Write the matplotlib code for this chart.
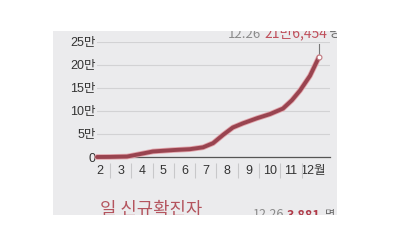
import matplotlib
matplotlib.use("Agg")
import matplotlib.pyplot as plt
import matplotlib.patheffects as pe
from matplotlib.patches import Rectangle

plt.rcParams['font.family'] = ['Noto Sans CJK KR', 'DejaVu Sans']

# cumulative count (unit: 만), x in month units (3.0 = start of March)
month_pos = [2.39, 3.0, 3.8, 4.03, 4.41, 5.02, 5.96, 6.76, 7.37, 7.84, 8.31,
             8.77, 9.24, 9.9, 10.51, 11.12, 11.54, 11.92, 12.39, 12.81]
cum_man = [0.0, 0.02, 0.1, 0.3, 0.64, 1.2, 1.5, 1.7, 2.1, 3.0, 4.8,
           6.4, 7.3, 8.4, 9.3, 10.5, 12.3, 14.4, 17.6, 21.65]

months = [2, 3, 4, 5, 6, 7, 8, 9, 10, 11, 12]
month_labels = ["2", "3", "4", "5", "6", "7", "8", "9", "10", "11", "12월"]
y_ticks = [0, 5, 10, 15, 20, 25]
y_labels = ["0", "5만", "10만", "15만", "20만", "25만"]

W, H = 400, 250
fig = plt.figure(figsize=(4, 2.5), dpi=100)
fig.patch.set_facecolor("white")

# gray panel (the crop of the original graphic)
px0, py0, px1, py1 = 53, 31, 337, 215
panel = Rectangle((px0 / W, 1 - py1 / H), (px1 - px0) / W, (py1 - py0) / H,
                  transform=fig.transFigure, facecolor="#ebebed", edgecolor="none", zorder=-1)
fig.patches.append(panel)

ax = fig.add_axes([97 / W, 1 - 157 / H, 233 / W, 115.3 / H])
ax.set_zorder(1)
ax.set_facecolor("none")
ax.set_xlim(2.39, 13.33)
ax.set_ylim(0, 25)

for s in ["top", "right", "left"]:
    ax.spines[s].set_visible(False)
ax.spines["bottom"].set_color("#555555")
ax.spines["bottom"].set_linewidth(0.9)

ax.set_yticks(y_ticks, y_labels)
ax.set_xticks([m + 0.5 for m in months], month_labels)
ax.tick_params(axis="y", length=0, pad=1, labelsize=9, labelcolor="#333333")
ax.tick_params(axis="x", length=0, pad=6, labelsize=9, labelcolor="#333333")
for t in ax.get_xticklabels() + ax.get_yticklabels():
    t.set_family(['Liberation Sans', 'Noto Sans CJK KR'])
ax.grid(axis="y", color="#d2d2d4", linewidth=0.8)
ax.grid(axis="x", visible=False)

# month separators below the axis
ax.vlines(months[1:], -0.052, -0.18, transform=ax.get_xaxis_transform(),
          color="#c8c8ca", linewidth=0.8, clip_on=False)

ax.plot(month_pos, cum_man, color="#994450", linewidth=2.8, solid_capstyle="round",
        clip_on=False, zorder=3,
        path_effects=[pe.Stroke(linewidth=4.0, foreground="#e2a4ab"), pe.Normal()])
ax.plot([month_pos[-1], month_pos[-1]], [cum_man[-1], 24.4], color="#777777",
        linewidth=0.8, clip_on=False, zorder=2)
ax.plot(month_pos[-1], cum_man[-1], "o", markersize=3.5, markerfacecolor="white",
        markeredgecolor="#c07880", markeredgewidth=0.8, clip_on=False, zorder=4)


def label(x, y, s, color, size, weight="normal"):
    return fig.text(x / W, 1 - y / H, s, color=color, fontsize=size, fontweight=weight,
                    va="baseline", ha="left", zorder=2)


label(228, 37.5, "12.26", "#8a8a8a", 9.5)
label(264, 37.5, "21만6,454", "#c0505c", 10)
label(329, 37.5, "명", "#666666", 9.5)

label(100, 215, "일 신규확진자", "#b4545e", 12.8)
label(253, 218, "12.26", "#8a8a8a", 9)
label(287, 218, "3,881", "#b03a48", 9, "bold")
label(325, 218, "명", "#666666", 8)

# white margins cut the texts at the panel edges
for (x0, y0, x1, y1) in [(0, 0, W, py0), (0, py1, W, H), (0, 0, px0, H), (px1, 0, W, H)]:
    fig.patches.append(Rectangle((x0 / W, 1 - y1 / H), (x1 - x0) / W, (y1 - y0) / H,
                                 transform=fig.transFigure, facecolor="white",
                                 edgecolor="none", zorder=5))

fig.savefig("out.png", dpi=100)
